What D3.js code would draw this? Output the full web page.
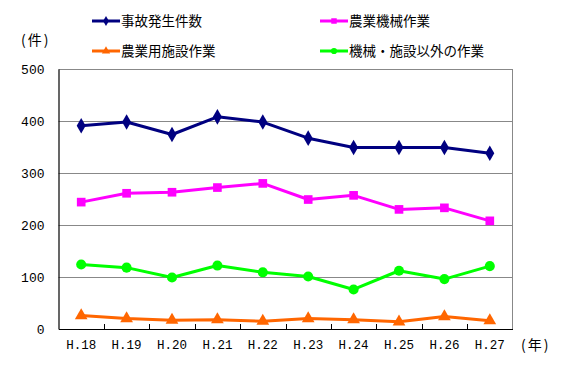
<!DOCTYPE html>
<html>
<head>
<meta charset="utf-8">
<script src="https://cdn.jsdelivr.net/npm/d3@7"></script>
<style>
  html, body { margin: 0; padding: 0; background: #fff; }
  svg { display: block; }
</style>
</head>
<body>
<svg id="chart" width="567" height="378"></svg>
<script>
// ---- data ----
const years = ["H.18", "H.19", "H.20", "H.21", "H.22", "H.23", "H.24", "H.25", "H.26", "H.27"];
const accidents  = [391, 398, 374, 408, 398, 367, 349, 349, 349, 338];
const machinery  = [244, 261, 263, 272, 280, 249, 257, 230, 233, 208];
const facilities = [26, 20, 17, 18, 15, 20, 18, 14, 24, 16];
const others     = [124, 118, 99, 122, 109, 101, 76, 112, 96, 121];
const seriesNames = ["事故発生件数", "農業機械作業", "農業用施設作業", "機械・施設以外の作業"];
const yTicks = [0, 100, 200, 300, 400, 500];

(function () {
const series = [
  { name: seriesNames[0], values: accidents,  color: "#000080", marker: "diamond" },
  { name: seriesNames[1], values: machinery,  color: "#FF00FF", marker: "square" },
  { name: seriesNames[2], values: facilities, color: "#FF6600", marker: "triangle" },
  { name: seriesNames[3], values: others,     color: "#00FF00", marker: "circle" }
];

const svg = d3.select("#chart");
const pLeft = 58.5, pRight = 512.5, pTop = 69, pBottom = 329;

const x = d3.scaleBand().domain(years).range([pLeft, pRight]).paddingInner(0).paddingOuter(0);
const y = d3.scaleLinear().domain([0, 500]).range([pBottom, pTop]);

const jpFont = "'Noto Sans CJK JP', sans-serif";
const numFont = "'Liberation Mono', 'DejaVu Sans Mono', monospace";

// gridlines
svg.append("g").selectAll("line").data(yTicks.filter(d => d > 0)).join("line")
  .attr("x1", pLeft).attr("x2", pRight)
  .attr("y1", d => Math.round(y(d)) + 0.5).attr("y2", d => Math.round(y(d)) + 0.5)
  .attr("stroke", "#888").attr("stroke-width", 1);

// right border
svg.append("line").attr("x1", pRight).attr("x2", pRight).attr("y1", pTop).attr("y2", pBottom)
  .attr("stroke", "#888").attr("stroke-width", 1);

// y axis
const yAxis = d3.axisLeft(y).tickValues(yTicks).tickSize(0).tickPadding(14);
const gy = svg.append("g").attr("transform", `translate(${pLeft},0)`).call(yAxis);
gy.select(".domain").attr("stroke", "#000").attr("stroke-width", 1.2);
gy.selectAll("text").attr("font-family", numFont).attr("font-size", 13).attr("fill", "#000");

// x axis
const xAxis = d3.axisBottom(x).tickSize(0).tickPadding(11);
const gx = svg.append("g").attr("transform", `translate(0,${pBottom})`).call(xAxis);
gx.select(".domain").attr("stroke", "#000").attr("stroke-width", 1.2);
gx.selectAll("text").attr("font-family", numFont).attr("font-size", 12.5).attr("fill", "#000");

// inward tick marks at category boundaries
const boundaries = years.slice(1).map(d => x(d));
svg.append("g").selectAll("line").data(boundaries).join("line")
  .attr("x1", d => Math.round(d) + 0.5).attr("x2", d => Math.round(d) + 0.5)
  .attr("y1", pBottom).attr("y2", pBottom - 5)
  .attr("stroke", "#000").attr("stroke-width", 1);

// axis unit labels
svg.append("text").attr("x", 21).attr("y", 45).text("(件)")
  .attr("font-family", jpFont).attr("font-size", 14).attr("letter-spacing", 2).attr("fill", "#000");
svg.append("text").attr("x", 521).attr("y", 350).text("(年)")
  .attr("font-family", jpFont).attr("font-size", 14).attr("letter-spacing", 2).attr("fill", "#000");

// marker drawing
function markerPath(type, size) {
  const map = {
    diamond: d3.symbolDiamond, square: d3.symbolSquare,
    triangle: d3.symbolTriangle, circle: d3.symbolCircle
  };
  return d3.symbol().type(map[type]).size(size)();
}
const markerSize = { diamond: 70, square: 75, triangle: 70, circle: 80 };

const line = d3.line().x((d, i) => x(years[i]) + x.bandwidth() / 2).y(d => y(d));

series.forEach(s => {
  svg.append("path").datum(s.values).attr("d", line)
    .attr("fill", "none").attr("stroke", s.color).attr("stroke-width", 3)
    .attr("stroke-linejoin", "round");
  svg.append("g").selectAll("path").data(s.values).join("path")
    .attr("d", markerPath(s.marker, markerSize[s.marker]))
    .attr("transform", (d, i) => `translate(${x(years[i]) + x.bandwidth() / 2},${y(d)})`)
    .attr("fill", s.color);
});

// legend
const legendPos = [
  { x: 92, y: 21 }, { x: 320, y: 21 }, { x: 92, y: 51 }, { x: 320, y: 51 }
];
series.forEach((s, i) => {
  const p = legendPos[i];
  const g = svg.append("g").attr("transform", `translate(${p.x},${p.y})`);
  g.append("line").attr("x1", 0).attr("x2", 28).attr("y1", 0).attr("y2", 0)
    .attr("stroke", s.color).attr("stroke-width", 3);
  g.append("path").attr("d", markerPath(s.marker, 30))
    .attr("transform", "translate(14,0)").attr("fill", s.color);
  g.append("text").attr("x", 29).attr("y", 0).attr("dy", "0.36em").text(s.name)
    .attr("font-family", jpFont).attr("font-size", 13.5).attr("fill", "#000");
});
})();
</script>
</body>
</html>
